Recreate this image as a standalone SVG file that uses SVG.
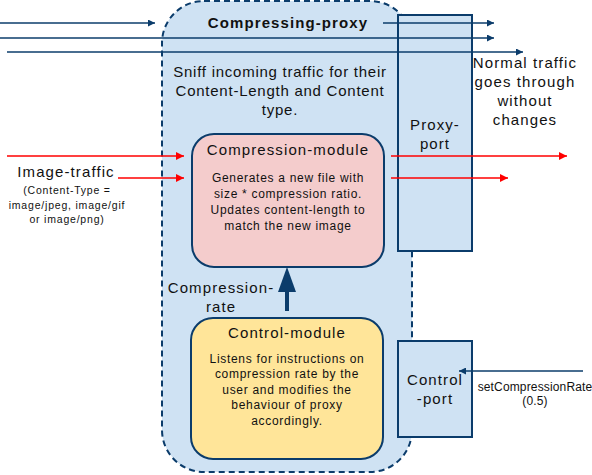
<svg xmlns="http://www.w3.org/2000/svg" width="592" height="475" viewBox="0 0 592 475">
<style>
text{font-family:"Liberation Sans",Arial,sans-serif;fill:#111;text-anchor:middle}
.t15{font-size:15px;letter-spacing:1.1px}
.s15{font-size:15px;letter-spacing:0.75px}
.t12{font-size:12px;letter-spacing:0.7px}
.t10{font-size:10.5px;letter-spacing:0.8px}
.t11{font-size:12px;letter-spacing:0.15px}
.blue{stroke:#0b3c6b;stroke-width:1.5;fill:none}
.red{stroke:#ff0000;stroke-width:1.5;fill:none}
</style>
<defs>
<marker id="ab" viewBox="0 0 10 10" refX="10" refY="5" markerWidth="10" markerHeight="7" markerUnits="userSpaceOnUse" orient="auto"><path d="M0,0 L10,5 L0,10 z" fill="#0b3c6b"/></marker>
<marker id="ar" viewBox="0 0 10 10" refX="10" refY="5" markerWidth="11" markerHeight="8" markerUnits="userSpaceOnUse" orient="auto"><path d="M0,0 L10,5 L0,10 z" fill="#ff0000"/></marker>
</defs>
<g id="proxy">
<rect x="162" y="1" width="250" height="471" rx="42" fill="#cfe2f3" stroke="#0b3c6b" stroke-width="2" stroke-dasharray="6,4"/>
<text class="t15" x="288" y="28" font-weight="bold">Compressing-proxy</text>
<text class="s15" x="280" y="77">Sniff incoming traffic for their</text>
<text class="s15" x="280" y="96">Content-Length and Content</text>
<text class="s15" x="280" y="115">type.</text>
</g>
<g id="proxy-port">
<rect x="398" y="15" width="74" height="236" fill="#cfe2f3" stroke="#0b3c6b" stroke-width="2"/>
<text class="t15" x="435" y="130">Proxy-</text>
<text class="t15" x="435" y="149">port</text>
</g>
<g id="control-port">
<rect x="398" y="341" width="74" height="96" fill="#cfe2f3" stroke="#0b3c6b" stroke-width="2"/>
<text class="t15" x="435" y="385">Control</text>
<text class="t15" x="435" y="404">-port</text>
</g>
<g id="compression-module">
<rect x="192" y="134" width="192" height="133" rx="22" fill="#f4cccc" stroke="#0b3c6b" stroke-width="2"/>
<text class="t15" x="288" y="155">Compression-module</text>
<text class="t12" x="288" y="182">Generates a new file with</text>
<text class="t12" x="288" y="198">size * compression ratio.</text>
<text class="t12" x="288" y="214">Updates content-length to</text>
<text class="t12" x="288" y="230">match the new image</text>
</g>
<g id="control-module">
<rect x="191" y="318" width="192" height="141" rx="22" fill="#ffe599" stroke="#0b3c6b" stroke-width="2"/>
<text class="t15" x="287" y="338">Control-module</text>
<text class="t12" x="287" y="363">Listens for instructions on</text>
<text class="t12" x="287" y="378">compression rate by the</text>
<text class="t12" x="287" y="394">user and modifies the</text>
<text class="t12" x="287" y="409">behaviour of proxy</text>
<text class="t12" x="287" y="425">accordingly.</text>
</g>
<g id="labels">
<text class="t15" x="525" y="68">Normal traffic</text>
<text class="t15" x="525" y="87">goes through</text>
<text class="t15" x="525" y="106">without</text>
<text class="t15" x="525" y="125">changes</text>
<text class="t15" x="66" y="177">Image-traffic</text>
<text class="t10" x="67" y="194">(Content-Type =</text>
<text class="t10" x="67" y="209">image/jpeg, image/gif</text>
<text class="t10" x="67" y="223">or image/png)</text>
<text class="t15" x="221" y="293">Compression-</text>
<text class="t15" x="221" y="312">rate</text>
<text class="t11" x="535" y="391">setCompressionRate</text>
<text class="t11" x="535" y="405">(0.5)</text>
</g>
<g id="connectors">
<line class="blue" x1="0" y1="23" x2="155" y2="23" marker-end="url(#ab)"/>
<line class="blue" x1="383" y1="23" x2="494" y2="23" marker-end="url(#ab)"/>
<line class="blue" x1="0" y1="38" x2="494" y2="38" marker-end="url(#ab)"/>
<line class="blue" x1="7" y1="52" x2="523" y2="52" marker-end="url(#ab)"/>
<line class="red" x1="7" y1="156" x2="184" y2="156" marker-end="url(#ar)"/>
<line class="red" x1="118" y1="178" x2="184" y2="178" marker-end="url(#ar)"/>
<line class="red" x1="391" y1="156" x2="567" y2="156" marker-end="url(#ar)"/>
<line class="red" x1="391" y1="178" x2="508" y2="178" marker-end="url(#ar)"/>
<line x1="287" y1="311" x2="287" y2="290" stroke="#0b3c6b" stroke-width="4"/>
<path d="M287,267 L296,292 L278,292 z" fill="#0b3c6b"/>
<line class="blue" x1="583" y1="371" x2="459" y2="371" marker-end="url(#ab)"/>
</g>
</svg>
